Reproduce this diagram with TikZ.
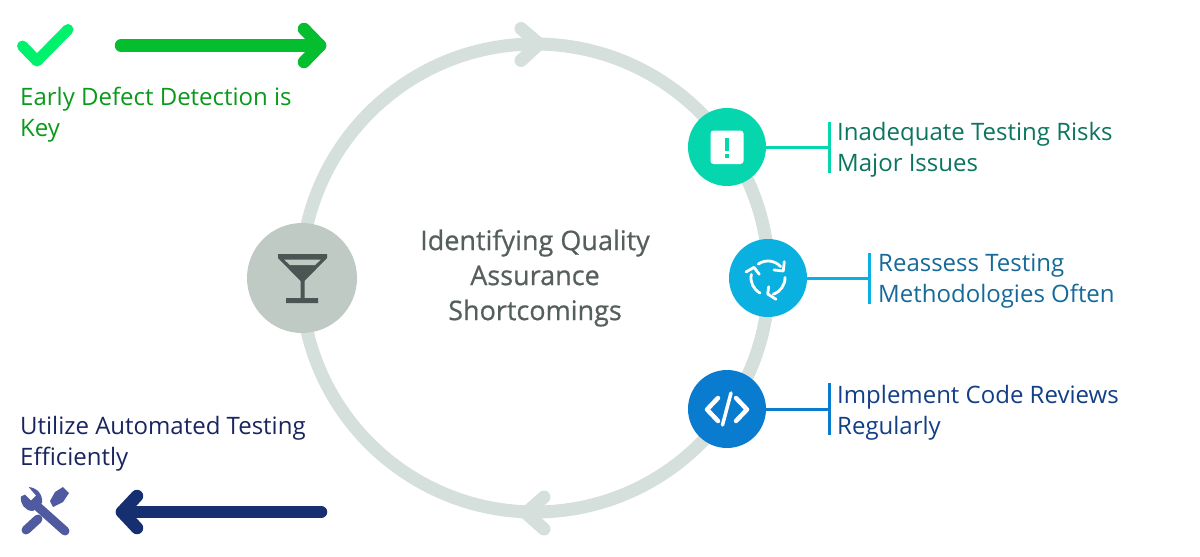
\documentclass[tikz,border=0pt]{standalone}
\usepackage{fontspec}
\setmainfont{Open Sans}
\newfontfamily\headfont[FakeBold=0.6]{Open Sans}
\definecolor{ringc}{HTML}{D5E0DC}
\definecolor{glassbg}{HTML}{BFCAC5}
\definecolor{glassfg}{HTML}{4A5653}
\definecolor{tealc}{HTML}{05D6AE}
\definecolor{skyc}{HTML}{0AB0E0}
\definecolor{bluec}{HTML}{0A7CD0}
\definecolor{checkc}{HTML}{00F26D}
\definecolor{garrow}{HTML}{05BE2F}
\definecolor{gtext}{HTML}{0A9A1A}
\definecolor{narrow}{HTML}{162F70}
\definecolor{ntext}{HTML}{1A2560}
\definecolor{toolc}{HTML}{4F5AA0}
\definecolor{ttext}{HTML}{0B7560}
\definecolor{stext}{HTML}{156A9A}
\definecolor{btext}{HTML}{123F85}
\definecolor{ctext}{HTML}{555F5C}
\tikzset{
  x=1pt,y=-1pt,
  ring/.style={draw=ringc,line width=13pt,line cap=round,line join=round},
  badge/.style={circle,inner sep=0pt,minimum size=78pt},
  label/.style={anchor=west,align=left,inner sep=0pt,font=\fontsize{24}{31}\selectfont},
  stem/.style={line width=3pt},
  thick arrow/.style={line width=12.5pt,line cap=round,line join=round},
  glyph/.style={draw=white,line cap=round,line join=round}
}
\begin{document}
\begin{tikzpicture}
\useasboundingbox (0,0) rectangle (1200,557);

% Main ring with its two direction marks
\coordinate (hub) at (535,278);
\draw[ring] (hub) circle[radius=234pt];
\coordinate (topTip) at (539,44);
\coordinate (botTip) at (526,513);
\draw[ring] (521,28.5) -- (topTip) -- (521,60.5);
\draw[ring] (544,497) -- (botTip) -- (544,529);

% Centre label
\node[inner sep=0pt,align=center,text=ctext,font=\headfont\fontsize{27}{35}\selectfont] (title) at (535,278)
  {Identifying Quality\\Assurance\\Shortcomings};

% Left badge with cocktail glass
\node[badge,fill=glassbg,minimum size=110pt] (glass) at (302,278) {};
\fill[glassfg] (278,254) -- (327,254) -- (327,258) -- (304.5,281) -- (304.5,298) -- (318,298) -- (318,303)
  -- (286,303) -- (286,298) -- (300.5,298) -- (300.5,281) -- (278,258) -- cycle;
\fill[glassbg] (284,259.5) -- (321,259.5) -- (315,265) -- (290,265) -- cycle;

% Right badges and their connectors
\node[badge,fill=tealc] (alert) at (727,147) {};
\node[badge,fill=skyc] (cycle) at (768,278) {};
\node[badge,fill=bluec] (code) at (727,409) {};

\coordinate (alertBar) at (829,147);
\coordinate (cycleBar) at (869,278);
\coordinate (codeBar) at (829,409);
\draw[stem,draw=tealc] (alert) -- (alertBar);
\draw[stem,draw=tealc] (829,122) -- (829,173);
\draw[stem,draw=skyc] (cycle) -- (cycleBar);
\draw[stem,draw=skyc] (869,253) -- (869,304);
\draw[stem,draw=bluec] (code) -- (codeBar);
\draw[stem,draw=bluec] (829,383) -- (829,435);

% Alert glyph
\fill[white,rounded corners=3pt] (710.5,130.5) rectangle (743.5,164);
\fill[tealc] (725,138) rectangle (729,151);
\fill[tealc] (725,153.5) rectangle (729,157.5);

% Refresh glyph: three clockwise arcs, each ending in a small head
\begin{scope}[glyph,line width=2.8pt]
  \draw (cycle.center) ++(125:17pt) arc[start angle=125,end angle=42,radius=17pt];
  \draw (784.3,261.7) -- (783.3,271) -- (774,270);
  \draw (cycle.center) ++(2:17pt) arc[start angle=2,end angle=-72,radius=17pt];
  \draw (768.7,286.7) -- (767.7,294) -- (776,299.3);
  \draw (cycle.center) ++(-118:17pt) arc[start angle=-118,end angle=-192,radius=17pt];
  \draw (746,272) -- (754,267.3) -- (759.3,274.3);
\end{scope}

% Code glyph
\draw[glyph,line width=4.5pt] (718,398) -- (707,409.5) -- (718,421);
\draw[glyph,line width=4.5pt] (736,398) -- (747,409.5) -- (736,421);
\draw[glyph,line width=3.5pt] (731,393) -- (722.5,425);

% Right labels
\node[label,text=ttext] (lblA) at (837,150) {Inadequate Testing Risks\\Major Issues};
\node[label,text=stext] (lblB) at (878,281) {Reassess Testing\\Methodologies Often};
\node[label,text=btext] (lblC) at (837,412.5) {Implement Code Reviews\\Regularly};

% Upper left: check mark, arrow and label
\draw[draw=checkc,line width=11pt,line cap=round,line join=round] (22.5,46) -- (37,61) -- (68,29.5);
\coordinate (gStart) at (121,45.5);
\coordinate (gTip) at (320,45.5);
\draw[thick arrow,draw=garrow] (gStart) -- (gTip);
\draw[thick arrow,draw=garrow] (304,29) -- (gTip) -- (304,62);
\node[label,text=gtext] (lblEarly) at (20,114.5) {Early Defect Detection is\\Key};

% Lower left: label, tools and arrow
\node[label,text=ntext] (lblAuto) at (20,444) {Utilize Automated Testing\\Efficiently};
\coordinate (nStart) at (321,512);
\coordinate (nTip) at (122,512);
\draw[thick arrow,draw=narrow] (nStart) -- (nTip);
\draw[thick arrow,draw=narrow] (137,496) -- (nTip) -- (137,528);

% Crossed wrench and screwdriver
\begin{scope}[draw=toolc,fill=toolc]
  \draw[line width=9pt,line cap=round] (37,506) -- (65,531);
  \fill (21,496.5) -- (25,494.5) -- (31,500.5) -- (36,495.5) -- (29.5,488) -- (29,487)
    .. controls (37,488) and (43,494) .. (42,503) -- (33,511)
    .. controls (25,511) and (20,504) .. cycle;
  \draw[line width=9pt,line cap=round] (26,530) -- (38,519);
  \fill (53,507) -- (50,501) -- (55,492) -- (63,487) -- (69,493) -- (63,502) -- cycle;
\end{scope}
\end{tikzpicture}
\end{document}
